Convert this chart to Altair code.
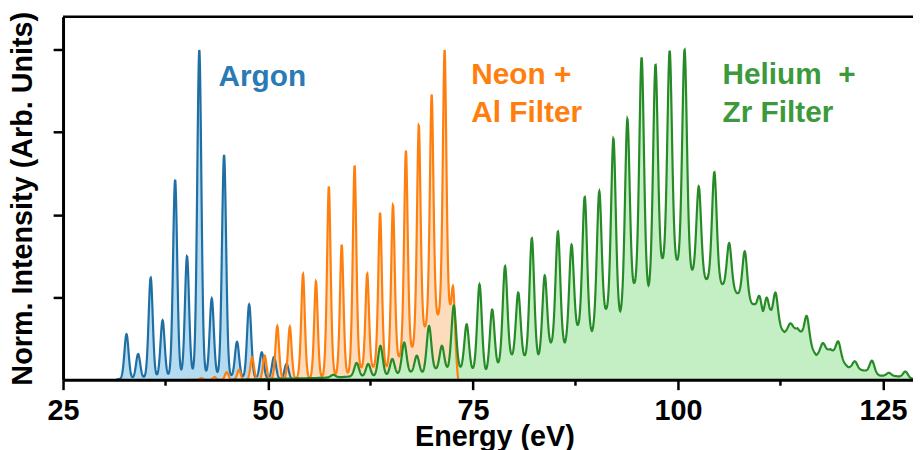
import numpy as np
import pandas as pd
import altair as alt

# ---------------- values ----------------
argon_peak_E = [32.74, 34.16, 35.69, 37.14, 38.67, 40.12, 41.62, 43.14, 44.64, 46.22, 47.70, 49.24, 50.73, 52.26]
argon_peak_I = [0.138, 0.078, 0.309, 0.180, 0.606, 0.374, 1.0, 0.246, 0.681, 0.115, 0.228, 0.083, 0.069, 0.048]

neon_peak_E = [41.86, 43.47, 44.96, 46.46, 48.07, 49.60, 51.13, 52.66, 54.27, 55.85, 57.42,
               58.99, 60.56, 62.10, 63.67, 65.24, 66.82, 68.39, 69.96, 71.54, 72.59]
neon_peak_I = [0.005, 0.008, 0.023, 0.030, 0.068, 0.073, 0.163, 0.161, 0.321, 0.298, 0.586,
               0.409, 0.650, 0.321, 0.506, 0.530, 0.694, 0.772, 0.865, 1.0, 0.280]
neon_trough_E = [40.0, 45.7, 50.4, 53.5, 56.66, 58.26, 59.89, 61.41, 63.03, 64.52, 66.13,
                 67.66, 69.24, 70.85, 72.18, 73.2]
neon_trough_I = [0.0, 0.0, 0.003, 0.006, 0.013, 0.018, 0.033, 0.038, 0.053, 0.043, 0.08,
                 0.103, 0.168, 0.208, 0.233, 0.0]

helium_peak_E = [57.95, 59.47, 60.81, 62.22, 63.71, 65.16, 66.61, 68.15, 69.64, 71.21,
                 72.66, 74.23, 75.80, 77.34, 78.91, 80.52, 82.18, 83.75, 85.36, 87.02,
                 88.63, 90.40, 92.13, 93.83, 95.57, 97.26, 98.99, 100.81, 102.54, 104.44,
                 106.25, 108.15, 109.96, 110.81, 111.90, 113.71, 115.72, 117.66, 119.56, 121.58,
                 123.67, 125.73, 127.75]
helium_peak_I = [0.015, 0.009, 0.051, 0.048, 0.103, 0.063, 0.113, 0.073, 0.163, 0.103,
                 0.225, 0.168, 0.289, 0.213, 0.344, 0.264, 0.429, 0.316, 0.449, 0.409,
                 0.554, 0.571, 0.731, 0.790, 0.977, 0.955, 0.997, 1.0, 0.586, 0.629,
                 0.414, 0.389, 0.253, 0.249, 0.264, 0.171, 0.193, 0.111, 0.116, 0.056,
                 0.058, 0.021, 0.025]
helium_trough_E = [45.5, 53.6, 58.7, 60.1, 61.5, 62.95, 64.45, 65.9, 67.4, 68.95, 70.45, 71.95,
                   73.45, 75.0, 76.55, 78.1, 79.7, 81.35, 82.95, 84.56, 86.2, 87.83, 89.52,
                   91.25, 92.95, 94.68, 96.42, 98.1, 99.9, 101.65, 103.3, 105.1, 106.9, 109.3,
                   110.37, 111.3, 113.0, 114.6, 116.86, 118.6, 120.77, 122.79, 124.6, 126.61, 128.67]
helium_trough_I = [0.0, 0.004, 0.008, 0.012, 0.013, 0.014, 0.018, 0.022, 0.025, 0.028, 0.035, 0.042,
                   0.040, 0.036, 0.033, 0.053, 0.078, 0.075, 0.078, 0.115, 0.113, 0.168, 0.148,
                   0.216, 0.208, 0.294, 0.286, 0.369, 0.364, 0.339, 0.313, 0.319, 0.279, 0.23,
                   0.208, 0.213, 0.145, 0.156, 0.075, 0.093, 0.038, 0.028, 0.013, 0.011, 0.003]

label_text = ["Argon", "Neon +", "Al Filter", "Helium\u00a0 +", "Zr Filter"]
label_E = [43.96, 74.80, 74.80, 105.44, 105.44]
label_I = [0.890, 0.895, 0.782, 0.895, 0.782]
label_color = ["#2a7ab5", "#ff7f0e", "#ff7f0e", "#3c9a3c", "#3c9a3c"]

x_major = [25, 50, 75, 100, 125]
x_minor = [37.5, 62.5, 87.5, 112.5]
y_ticks = [0.25, 0.5, 0.75, 1.0]
X_MIN, X_MAX = 25, 128.67
Y_MIN, Y_MAX = 0, 1.1


# ---------------- line shapes built from the read peaks/troughs ----------------
def spectrum(grid, pe, pi, te, ti, w, eta):
    pe = np.asarray(pe, float)
    pi = np.asarray(pi, float)

    def shape(d):
        z = (2.0 * d / w) ** 2
        return eta / (1.0 + z) + (1.0 - eta) * np.exp(-np.log(2.0) * z)

    n = len(pe)
    if te:
        te = np.asarray(te, float)
        ti = np.asarray(ti, float)
        m = len(te)
        eye = np.eye(m)

        def basis(x):
            return np.stack([np.interp(x, te, eye[k]) for k in range(m)], axis=-1)

        pts = np.concatenate([pe, te])
        A = np.hstack([shape(pts[:, None] - pe[None, :]), basis(pts)])
        rhs = np.concatenate([pi, ti])
        sol = np.linalg.lstsq(A, rhs, rcond=None)[0]
        a, b = sol[:n], sol[n:]
        y = shape(grid[:, None] - pe[None, :]) @ a + basis(grid) @ b
    else:
        A = shape(pe[:, None] - pe[None, :])
        a = np.linalg.solve(A, pi)
        y = shape(grid[:, None] - pe[None, :]) @ a
    return np.clip(y, 0, None)


g_ar = np.arange(31.5, 53.5, 0.03)
g_ne = np.append(np.arange(40.0, 73.2, 0.03), 73.2)
g_he = np.append(np.arange(45.5, X_MAX, 0.03), X_MAX)

df_ar = pd.DataFrame({"E": g_ar, "I": spectrum(g_ar, argon_peak_E, argon_peak_I, [], [], 0.6, 0.1)})
df_ne = pd.DataFrame({"E": g_ne, "I": spectrum(g_ne, neon_peak_E, neon_peak_I,
                                               neon_trough_E, neon_trough_I, 0.55, 0.5)})
df_he = pd.DataFrame({"E": g_he, "I": spectrum(g_he, helium_peak_E, helium_peak_I,
                                               helium_trough_E, helium_trough_I, 0.7, 0.3)})
df_lab = pd.DataFrame({"E": label_E, "I": label_I, "text": label_text, "color": label_color})
df_minor = pd.DataFrame({"E": x_minor})

FONT = "Liberation Sans"
W, H = 857, 366

x_enc = alt.X("E:Q",
              scale=alt.Scale(domain=[X_MIN, X_MAX], nice=False, zero=False),
              axis=alt.Axis(values=x_major, title="Energy (eV)",
                            labelFont=FONT, labelFontSize=29, labelFontWeight="bold",
                            labelColor="black", labelBaseline="alphabetic", labelPadding=30,
                            labelFlush=False, labelOverlap=False,
                            tickSize=10, tickWidth=2.5, tickColor="black",
                            domainWidth=3, domainColor="black", grid=False,
                            titleFont=FONT, titleFontSize=29, titleFontWeight="bold",
                            titleColor="black", titleBaseline="alphabetic",
                            titleY=66, titleX=435, titleAlign="center", zindex=1))
y_enc = alt.Y("I:Q",
              scale=alt.Scale(domain=[Y_MIN, Y_MAX], nice=False),
              axis=alt.Axis(values=y_ticks, labels=False, title="Norm. Intensity (Arb. Units)",
                            tickSize=10, tickWidth=2.5, tickColor="black",
                            domainWidth=3, domainColor="black", grid=False,
                            titleFont=FONT, titleFontSize=29, titleFontWeight="bold",
                            titleColor="black", titleAngle=-90, titleBaseline="alphabetic",
                            titleAlign="center", titleX=-32, titleY=183, zindex=1))


def area(df, fill):
    return alt.Chart(df).mark_area(color=fill, opacity=1, clip=True).encode(x=x_enc, y=y_enc)


def line(df, stroke):
    return alt.Chart(df).mark_line(color=stroke, strokeWidth=2.2, clip=True).encode(x=x_enc, y=y_enc)


labels = alt.Chart(df_lab).mark_text(align="left", baseline="alphabetic", font=FONT,
                                     fontSize=30, fontWeight="bold").encode(
    x=x_enc, y=y_enc, text="text:N", color=alt.Color("color:N", scale=None))

minor_ticks = alt.Chart(df_minor).mark_rule(color="black", strokeWidth=2.5).encode(
    x=x_enc, y=alt.value(H), y2=alt.value(H + 6))

top_border = alt.Chart(pd.DataFrame({"y": [Y_MAX]})).mark_rule(
    color="black", strokeWidth=2.5).encode(y=alt.Y("y:Q"), x=alt.value(0), x2=alt.value(W))

chart = alt.layer(
    area(df_ar, "#b5dbf0"), area(df_ne, "#fddcbd"), area(df_he, "#c4eec4"),
    line(df_ar, "#1f6fa5"), line(df_ne, "#ff7f0e"), line(df_he, "#268a26"),
    labels, minor_ticks, top_border
).properties(
    width=W, height=H,
    autosize=alt.AutoSizeParams(type="none"),
    padding={"left": 55.5, "top": 7, "right": 0, "bottom": 69},
).configure_view(stroke=None).configure(background="white")

chart.save("out.html", embed_options={"renderer": "svg", "actions": False})
